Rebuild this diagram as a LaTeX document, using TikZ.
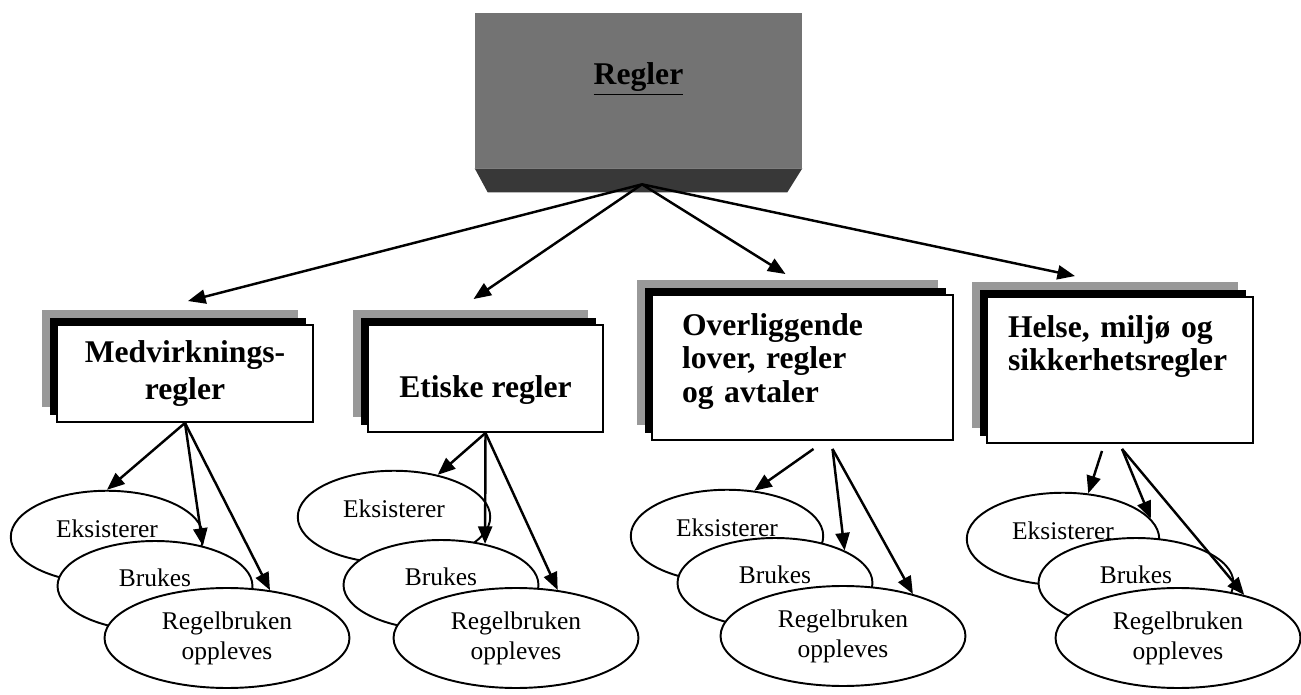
\documentclass[tikz,border=0pt]{standalone}
\usepackage{fontspec}
\setmainfont{Liberation Serif}
\usetikzlibrary{calc,shapes.geometric,shadows,arrows.meta}
\tikzset{
	arr/.style={-{Triangle[length=10pt,width=8pt]}, line width=1.4pt},
	topbox/.style={fill=black!55, minimum width=6.54cm, minimum height=3.1cm, inner sep=0pt, font=\fontsize{18}{21}\selectfont\bfseries},
	rulebox/.style={draw, line width=1.1pt, fill=white, inner sep=0pt, align=center, font=\fontsize{18}{21}\selectfont\bfseries,
		general shadow={fill=black!40, shadow xshift=-0.3cm, shadow yshift=0.3cm},
		general shadow={fill=black, shadow xshift=-0.14cm, shadow yshift=0.14cm}},
	oval/.style={ellipse, draw, line width=1.1pt, fill=white, inner sep=0pt, align=center, font=\fontsize{14.5}{17}\selectfont},
	ovalek/.style={oval, minimum width=3.85cm, minimum height=1.85cm, text depth=9pt},
	ovalbr/.style={oval, minimum width=3.9cm, minimum height=1.8cm, text depth=9pt},
	ovalop/.style={oval, minimum width=4.9cm, minimum height=2cm}
}

\begin{document}
\begin{tikzpicture}[x=0.02cm, y=-0.02cm]
	%%%%% START %%%%%
	\useasboundingbox (0,0) rectangle (1301,695);
	
	% top box
	\node[topbox, text depth=19pt] (regler) at (638.5,90.5) {\underline{Regler}};
	\fill[black!78] (regler.south west) -- (regler.south east) -- ++(-15,24) -- ($(regler.south west)+(13,24)$) -- cycle;
	\coordinate (hub) at ($(regler.south)+(3.5,16)$);
	
	% rule boxes
	\node[rulebox, minimum width=5.12cm, minimum height=1.94cm] (med) at (185,373.5) {Medvirknings-\\regler};
	\node[rulebox, minimum width=4.7cm, minimum height=2.14cm, text height=26pt, text depth=4pt] (etik) at (485.5,378.5) {Etiske regler};
	\node[rulebox, minimum width=6.02cm, minimum height=2.9cm, align=left, text width=4.82cm, inner xsep=0.6cm,
		font=\fontsize{18}{19}\selectfont\bfseries, text depth=49pt] (over) at (802.5,367.5) {Overliggende\\lover, regler\\og avtaler};
	\node[rulebox, minimum width=5.32cm, minimum height=2.92cm, align=left, text width=4.48cm, inner xsep=0.42cm,
		font=\fontsize{18}{19}\selectfont\bfseries, text depth=50pt] (hms) at (1120,370) {Helse, miljø og\\sikkerhetsregler};
	
	\coordinate (med-in) at ($(med.north)+(3,-23)$);
	\coordinate (etik-in) at ($(etik.north)+(-12,-25)$);
	\coordinate (over-in) at ($(over.north)+(-17,-20)$);
	\coordinate (hms-in) at ($(hms.north)+(-45,-20)$);
	
	\draw[arr] (hub) -- (med-in);
	\draw[arr] (hub) -- (etik-in);
	\draw[arr] (hub) -- (over-in);
	\draw[arr] (hub) -- (hms-in);
	
	% ellipses
	\node[ovalek] (m-ek) at (107,537) {Eksisterer};
	\node[ovalbr] (m-br) at (155,586) {Brukes};
	\node[ovalop] (m-op) at (227,638) {Regelbruken\\oppleves};
	
	\node[ovalek] (e-ek) at (394,517) {Eksisterer};
	\node[ovalbr] (e-br) at (441,585) {Brukes};
	\node[ovalop] (e-op) at (516,638) {Regelbruken\\oppleves};
	
	\node[ovalek] (o-ek) at (727,536) {Eksisterer};
	\node[ovalbr] (o-br) at (775,583) {Brukes};
	\node[ovalop] (o-op) at (843,636) {Regelbruken\\oppleves};
	
	\node[ovalek] (h-ek) at (1063,539) {Eksisterer};
	\node[ovalbr] (h-br) at (1136,583) {Brukes};
	\node[ovalop] (h-op) at (1178,638) {Regelbruken\\oppleves};
	
	% arrows down
	\draw[arr] (med.south) -- (m-ek.north);
	\draw[arr] (med.south) -- (m-br.40);
	\draw[arr] (med.south) -- (m-op.48);
	
	\draw[arr] (etik.south) -- (e-ek.44);
	\draw[arr] (etik.south) -- (e-br.43);
	\draw[arr] (etik.south) -- (e-op.49);
	
	\coordinate (over-a) at ($(over.south)+(11,8)$);
	\coordinate (over-b) at ($(over.south)+(30,8)$);
	\draw[arr] (over-a) -- (o-ek.59);
	\draw[arr] (over-b) -- (o-br.north east);
	\draw[arr] (over-b) -- (o-op.31);
	
	\coordinate (hms-a) at ($(hms.south)+(-18,7)$);
	\coordinate (hms-b) at ($(hms.south)+(2,5)$);
	\draw[arr] (hms-a) -- (h-ek.61);
	\draw[arr] (hms-b) -- (h-ek.13);
	\draw[arr] (hms-b) -- (h-op.33);
	%%%%% END %%%%%
\end{tikzpicture}
\end{document}
